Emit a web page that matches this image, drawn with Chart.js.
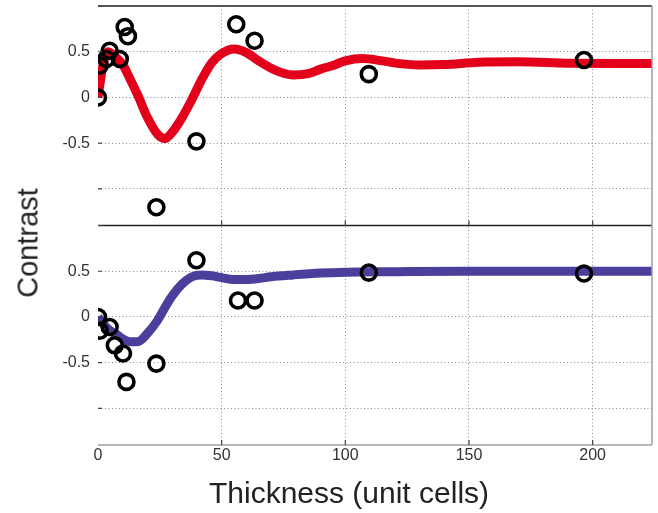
<!DOCTYPE html>
<html>
<head>
<meta charset="utf-8">
<script src="https://cdn.jsdelivr.net/npm/chart.js@4"></script>
<style>
  html, body { margin: 0; padding: 0; background: #fff; }
  #wrap { position: relative; width: 658px; height: 513px; }
  #chart { position: absolute; left: 0; top: 0; }
  .axis-title {
    position: absolute;
    font-family: 'Liberation Sans', Arial, sans-serif;
    color: #222;
    white-space: nowrap;
  }
  #yTitle {
    font-size: 29px;
    left: 28px; top: 243px;
    transform: translate(-50%, -50%) rotate(-90deg);
  }
  #xTitle {
    font-size: 30px;
    left: 349px; top: 493px;
    transform: translate(-50%, -50%);
  }
</style>
</head>
<body>
<div id="wrap">
  <canvas id="chart" width="658" height="513"></canvas>
  <div class="axis-title" id="yTitle">Contrast</div>
  <div class="axis-title" id="xTitle">Thickness (unit cells)</div>
</div>
<script>
// Top panel: measured contrast (circles) and fitted curve (red)
const topPointsX = [0, 0.7, 3.4, 4.7, 8.8, 10.8, 12.1, 23.6, 39.8, 55.9, 63.3, 109.5, 196.5];
const topPointsY = [0, 0.35, 0.42, 0.51, 0.42, 0.77, 0.67, -1.2, -0.48, 0.80, 0.62, 0.255, 0.41];
const topCurveX = [0, 2, 4, 6, 8, 10, 13, 16, 20, 24, 27, 30, 34, 38, 42, 46, 50, 55, 60, 65, 70, 75, 79, 85, 90, 95, 100, 107, 115, 122, 130, 140, 154, 170, 190, 210, 224];
const topCurveY = [0, 0.35, 0.5, 0.47, 0.42, 0.36, 0.2, 0.03, -0.22, -0.4, -0.45, -0.38, -0.22, -0.02, 0.2, 0.38, 0.48, 0.53, 0.49, 0.4, 0.32, 0.265, 0.245, 0.26, 0.31, 0.35, 0.4, 0.425, 0.4, 0.37, 0.355, 0.36, 0.385, 0.39, 0.375, 0.37, 0.37];

// Bottom panel: measured contrast (circles) and fitted curve (blue)
const botPointsX = [0, 0.7, 4.7, 6.8, 10.1, 11.5, 23.6, 39.8, 56.6, 63.3, 109.5, 196.5];
const botPointsY = [0, -0.15, -0.11, -0.31, -0.40, -0.71, -0.51, 0.62, 0.18, 0.18, 0.485, 0.475];
const botCurveX = [0, 2, 4, 6, 8, 10, 13, 16, 20, 24, 27, 30, 34, 38, 42, 46, 50, 55, 60, 65, 70, 79, 90, 100, 120, 150, 180, 224];
const botCurveY = [0, -0.07, -0.13, -0.17, -0.2, -0.24, -0.27, -0.27, -0.18, -0.04, 0.1, 0.23, 0.36, 0.44, 0.46, 0.45, 0.43, 0.41, 0.41, 0.42, 0.44, 0.46, 0.48, 0.49, 0.495, 0.5, 0.5, 0.5];

const xTickValues = [0, 50, 100, 150, 200];
const yTickValues = [-1, -0.5, 0, 0.5, 1];

const toXY = (xs, ys) => xs.map((x, i) => ({ x: x, y: ys[i] }));

const gridColor = '#8c8c8c';
const tickFont = { family: "'Liberation Sans', Arial, sans-serif", size: 16 };

function noPadding(scale) {
    scale.paddingTop = 0;
    scale.paddingBottom = 0;
    scale.paddingLeft = 0;
    scale.paddingRight = 0;
}

function yAxis(weight) {
    return {
        type: 'linear',
        position: 'left',
        stack: 'panels',
        stackWeight: 1,
        weight: weight,
        min: -1.4,
        max: 1.0,
        afterBuildTicks: scale => { scale.ticks = yTickValues.map(v => ({ value: v })); },
        afterFit: scale => { scale.width = 98; noPadding(scale); },
        ticks: {
            color: '#333',
            font: tickFont,
            padding: 8,
            callback: v => (Math.abs(v) === 1 ? '' : v)
        },
        grid: {
            drawTicks: false,
            lineWidth: 1,
            color: c => (c.tick && c.tick.value === 1 ? 'rgba(0,0,0,0)' : gridColor)
        },
        border: { display: false, dash: [1, 2.5] }
    };
}

// frame lines and small inward tick marks
const framePlugin = {
    id: 'frame',
    afterDraw(chart) {
        const ctx = chart.ctx;
        const x = chart.scales.x;
        const yT = chart.scales.yTop;
        const yB = chart.scales.yBot;
        const left = x.left, right = x.right;
        ctx.save();
        ctx.lineCap = 'butt';

        ctx.strokeStyle = '#222';
        ctx.lineWidth = 1.5;
        ctx.beginPath();
        ctx.moveTo(left, yT.top); ctx.lineTo(right, yT.top);
        ctx.moveTo(left, yT.bottom); ctx.lineTo(right, yT.bottom);
        ctx.stroke();

        ctx.strokeStyle = '#a0a0a0';
        ctx.lineWidth = 1.5;
        ctx.beginPath();
        ctx.moveTo(right, yT.top); ctx.lineTo(right, yB.bottom);
        ctx.moveTo(left, yB.bottom); ctx.lineTo(right, yB.bottom);
        ctx.stroke();

        ctx.strokeStyle = '#444';
        ctx.lineWidth = 1.2;
        ctx.beginPath();
        xTickValues.slice(1).forEach(v => {
            const px = x.getPixelForValue(v);
            ctx.moveTo(px, yT.bottom); ctx.lineTo(px, yT.bottom - 5);
            ctx.moveTo(px, yB.bottom); ctx.lineTo(px, yB.bottom - 5);
        });
        [yT, yB].forEach(s => {
            yTickValues.forEach(v => {
                const py = s.getPixelForValue(v);
                ctx.moveTo(left, py); ctx.lineTo(left + 4, py);
            });
        });
        ctx.stroke();
        ctx.restore();
    }
};

new Chart(document.getElementById('chart').getContext('2d'), {
    type: 'line',
    data: {
        datasets: [
            {
                label: 'Top fit',
                data: toXY(topCurveX, topCurveY),
                yAxisID: 'yTop',
                borderColor: '#e2001a',
                borderWidth: 9,
                pointRadius: 0,
                tension: 0.4,
                cubicInterpolationMode: 'monotone',
                clip: 0,
                order: 2
            },
            {
                label: 'Top data',
                data: toXY(topPointsX, topPointsY),
                yAxisID: 'yTop',
                showLine: false,
                pointStyle: 'circle',
                pointRadius: 7.5,
                pointBorderWidth: 3.6,
                pointBorderColor: '#000',
                pointBackgroundColor: 'rgba(0,0,0,0)',
                clip: 0,
                order: 1
            },
            {
                label: 'Bottom fit',
                data: toXY(botCurveX, botCurveY),
                yAxisID: 'yBot',
                borderColor: '#4b3f9c',
                borderWidth: 9,
                pointRadius: 0,
                tension: 0.4,
                cubicInterpolationMode: 'monotone',
                clip: 0,
                order: 2
            },
            {
                label: 'Bottom data',
                data: toXY(botPointsX, botPointsY),
                yAxisID: 'yBot',
                showLine: false,
                pointStyle: 'circle',
                pointRadius: 7.5,
                pointBorderWidth: 3.6,
                pointBorderColor: '#000',
                pointBackgroundColor: 'rgba(0,0,0,0)',
                clip: 0,
                order: 1
            }
        ]
    },
    options: {
        responsive: false,
        animation: false,
        layout: { autoPadding: false, padding: { top: 6, right: 6, left: 0, bottom: 0 } },
        plugins: {
            legend: { display: false },
            tooltip: { enabled: false }
        },
        scales: {
            x: {
                type: 'linear',
                position: 'bottom',
                min: 0,
                max: 224,
                afterBuildTicks: scale => { scale.ticks = xTickValues.map(v => ({ value: v })); },
                afterFit: scale => { scale.height = 68; noPadding(scale); },
                ticks: { color: '#333', font: tickFont, padding: 1 },
                grid: {
                    drawTicks: false,
                    lineWidth: 1,
                    color: c => (c.tick && c.tick.value === 0 ? 'rgba(0,0,0,0)' : gridColor)
                },
                border: { display: false, dash: [1, 2.5] }
            },
            yTop: yAxis(2),
            yBot: yAxis(1)
        }
    },
    plugins: [framePlugin]
});
</script>
</body>
</html>
